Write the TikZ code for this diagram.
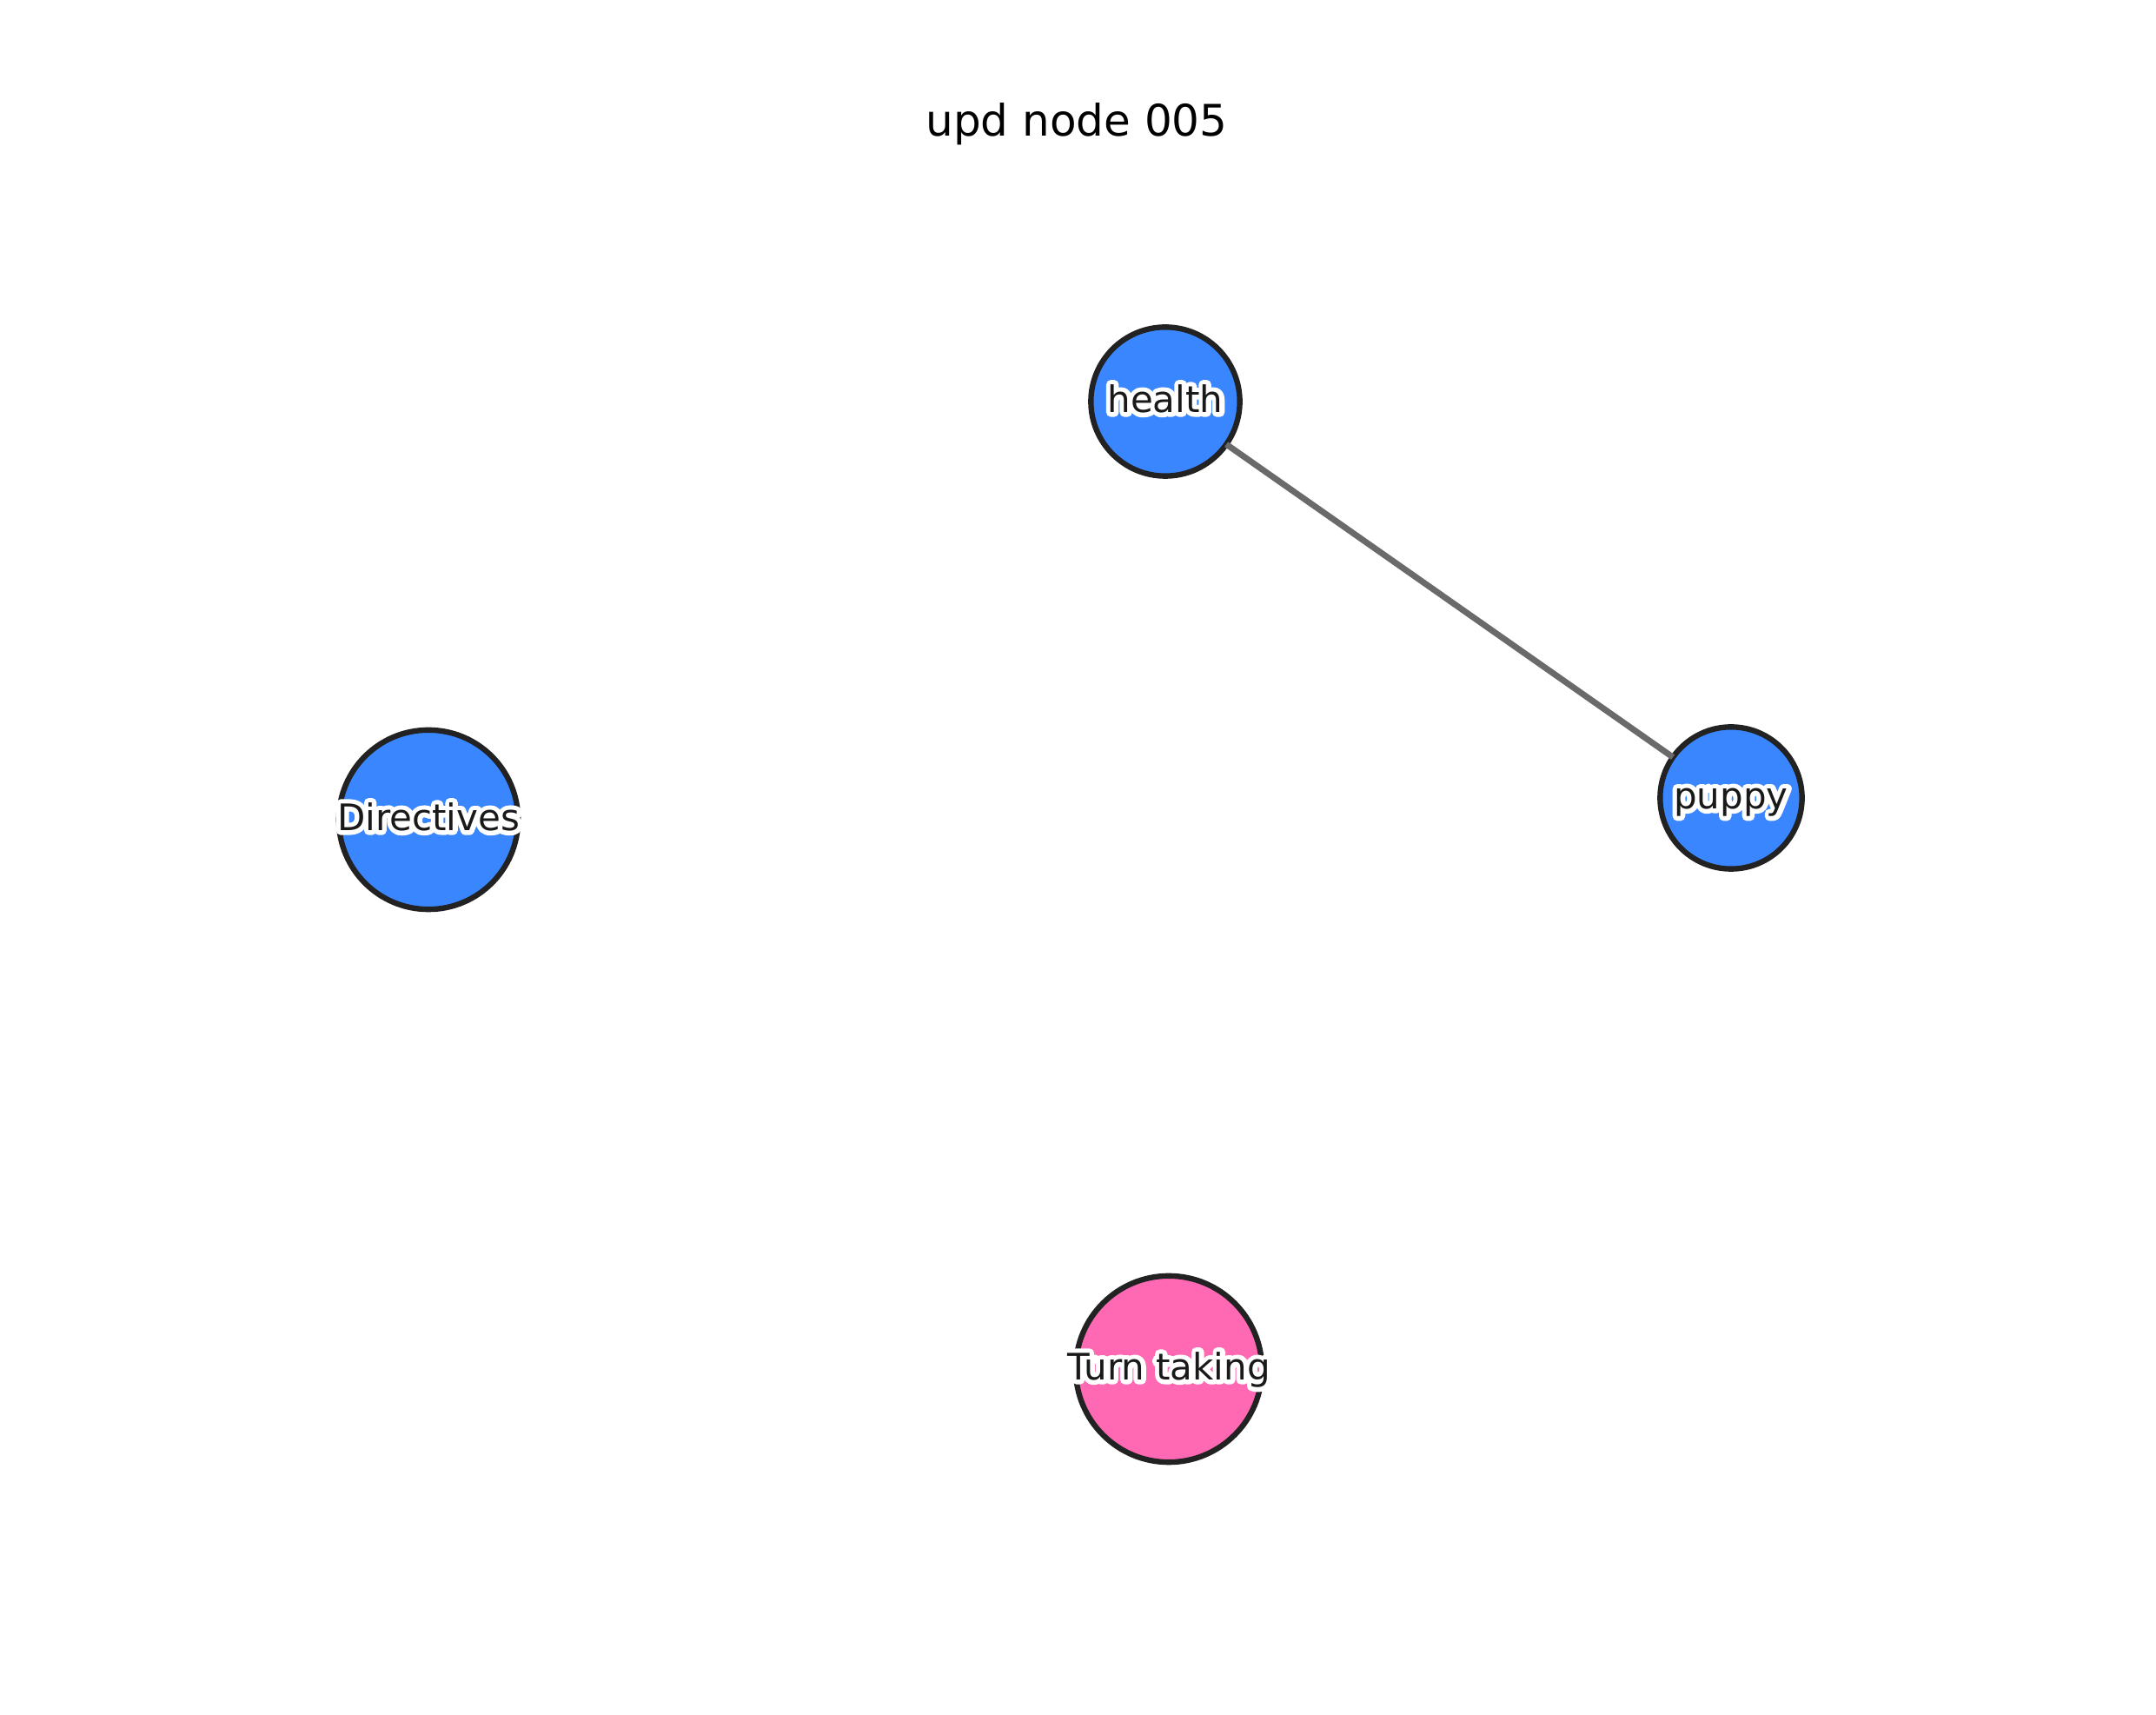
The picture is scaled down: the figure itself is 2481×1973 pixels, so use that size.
\documentclass[tikz,border=0pt]{standalone}
\usepackage{fontspec}
\setmainfont{DejaVu Sans}
\definecolor{nodeblue}{HTML}{3A86FF}
\definecolor{nodepink}{HTML}{FF69B4}
\definecolor{nodeedge}{HTML}{222222}
\definecolor{linkgray}{HTML}{6A6A6A}
% white halo: stroke-only copy of the text (text render mode 1), then the text itself
\newcommand{\halotext}[1]{%
  \leavevmode\rlap{\special{pdf:code q 1 1 1 RG 3.2 w 1 j 1 J 1 Tr}#1\special{pdf:code 0 Tr Q}}#1}
\tikzset{
  vertex/.style={circle, draw=nodeedge, line width=1.9pt, inner sep=0pt, outer sep=0pt},
  vlabel/.style={font=\fontsize{12.6}{14}\selectfont, text=black!90, inner sep=0pt, text height=7.4pt, text depth=0pt},
  link/.style={draw=linkgray, line width=2.1pt},
  titletext/.style={font=\fontsize{15}{18}\selectfont, anchor=base, inner sep=0pt}
}
\begin{document}
\begin{tikzpicture}[x=0.3pt, y=-0.3pt]
\useasboundingbox[fill=white] (0,0) rectangle (2481,1973);
\node[titletext] (title) at (1239,157) {upd node 005};
\node[vertex, fill=nodeblue, minimum size=51.4pt, label={[vlabel]center:\halotext{health}}] (health) at (1341,462) {};
\node[vertex, fill=nodeblue, minimum size=49.0pt, label={[vlabel]center:\halotext{puppy}}] (puppy) at (1992,918) {};
\node[vertex, fill=nodeblue, minimum size=61.9pt, label={[vlabel]center:\halotext{Directives}}] (directives) at (493,943) {};
\node[vertex, fill=nodepink, minimum size=64.3pt, label={[vlabel]center:\halotext{Turn taking}}] (turn) at (1345,1575) {};
\draw[link] (health) -- (puppy);
\end{tikzpicture}
\end{document}
